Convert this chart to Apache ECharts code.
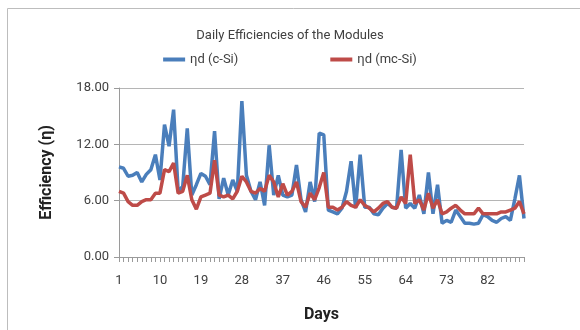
<!DOCTYPE html>
<html><head><meta charset="utf-8">
<script src="https://cdn.jsdelivr.net/npm/echarts@6/dist/echarts.min.js"></script>
<style>html,body{margin:0;padding:0;background:#fff}#c{width:580px;height:330px}</style>
</head><body><div id="c"></div>
<script>
const days = Array.from({length: 90}, (_, i) => String(i + 1));
const cSi = [9.6,9.45,8.6,8.7,9.0,8.0,8.8,9.3,10.9,8.2,
  14.1,11.8,15.7,7.0,7.5,13.7,6.6,7.7,8.9,8.6,
  7.7,13.4,6.2,8.4,6.6,8.2,7.0,16.6,8.7,7.0,
  6.1,8.0,5.5,11.9,6.6,8.7,6.6,6.4,6.6,9.8,
  6.1,4.8,8.0,5.9,13.2,13.0,5.0,4.8,4.6,5.2,
  7.0,10.2,5.2,10.9,5.3,5.3,4.6,4.5,5.2,5.7,
  5.3,5.2,11.4,5.2,5.7,5.2,6.6,4.6,9.0,4.6,
  7.7,3.6,3.9,3.7,5.0,4.3,3.6,3.6,3.5,3.6,
  4.5,4.3,3.9,3.7,4.1,4.3,3.9,6.2,8.7,4.1];
const mcSi = [7.0,6.8,5.9,5.5,5.5,5.9,6.1,6.1,6.8,6.8,
  9.3,9.1,10.0,6.8,7.0,8.7,6.1,5.1,6.4,6.6,
  6.8,10.3,6.6,6.4,6.6,6.2,7.0,8.6,8.0,7.0,
  6.8,7.3,7.0,8.7,8.0,6.4,7.8,6.6,7.0,8.0,
  5.9,5.3,6.8,6.1,7.4,9.0,5.3,5.3,5.0,5.3,
  5.9,5.5,5.3,6.1,5.5,5.2,4.8,5.2,5.7,5.9,
  5.3,5.2,6.4,5.7,10.9,5.7,6.1,5.0,6.8,5.2,
  6.1,4.6,4.8,5.2,5.5,5.0,4.6,4.6,4.6,5.2,
  4.6,4.6,4.6,4.6,4.8,4.8,5.0,5.2,5.9,4.6];
const yTicks = [0, 6, 12, 18];
const seriesNames = ['ηd (c-Si)', 'ηd (mc-Si)'];

const chart = echarts.init(document.getElementById('c'));
const font = 'Roboto, "Noto Sans", sans-serif';
chart.setOption({
  animation: false,
  textStyle: {fontFamily: font},
  title: {text: 'Daily Efficiencies of the Modules', left: 'center', top: 24,
    textStyle: {fontSize: 13, fontWeight: 'normal', color: '#404040', fontFamily: font}},
  legend: {top: 48, left: 'center', itemGap: 92, itemWidth: 22, itemHeight: 4, icon: 'rect',
    textStyle: {fontSize: 13, color: '#404040', fontFamily: font},
    data: seriesNames},
  graphic: [
    {type: 'line', shape: {x1: 7.5, y1: 8.5, x2: 7.5, y2: 330}, style: {stroke: '#bdbdbd', lineWidth: 1}},
    {type: 'line', shape: {x1: 7.5, y1: 8.5, x2: 580, y2: 8.5}, style: {stroke: '#bdbdbd', lineWidth: 1}}
  ],
  grid: {left: 119, top: 88, right: 56, bottom: 73},
  xAxis: {type: 'category', data: days, boundaryGap: false,
    name: 'Days', nameLocation: 'middle', nameGap: 50,
    nameTextStyle: {fontSize: 16, fontWeight: 'bold', color: '#222', fontFamily: font},
    axisLine: {lineStyle: {color: '#9a9a9a'}},
    axisTick: {interval: 0, length: 5, lineStyle: {color: '#9a9a9a'}},
    axisLabel: {interval: 8, fontSize: 13, color: '#404040', margin: 17},
    splitLine: {show: false}},
  yAxis: {type: 'value', min: yTicks[0], max: yTicks[yTicks.length - 1], interval: 6,
    name: 'Efficiency (η)', nameLocation: 'middle', nameGap: 64, nameRotate: 90,
    nameTextStyle: {fontSize: 16, fontWeight: 'bold', color: '#222', fontFamily: font},
    axisLine: {show: true, lineStyle: {color: '#9a9a9a'}},
    axisTick: {show: true, length: 5, lineStyle: {color: '#9a9a9a'}},
    axisLabel: {fontSize: 13, color: '#404040', margin: 10, formatter: v => v.toFixed(2)},
    splitLine: {lineStyle: {color: '#b5b5b5', width: 1}}},
  series: [
    {name: seriesNames[0], type: 'line', data: cSi, symbol: 'none',
      lineStyle: {width: 3.5, color: '#4a7ebb'}, itemStyle: {color: '#4a7ebb'}},
    {name: seriesNames[1], type: 'line', data: mcSi, symbol: 'none',
      lineStyle: {width: 3.5, color: '#be4b48'}, itemStyle: {color: '#be4b48'}}
  ]
});
</script></body></html>
